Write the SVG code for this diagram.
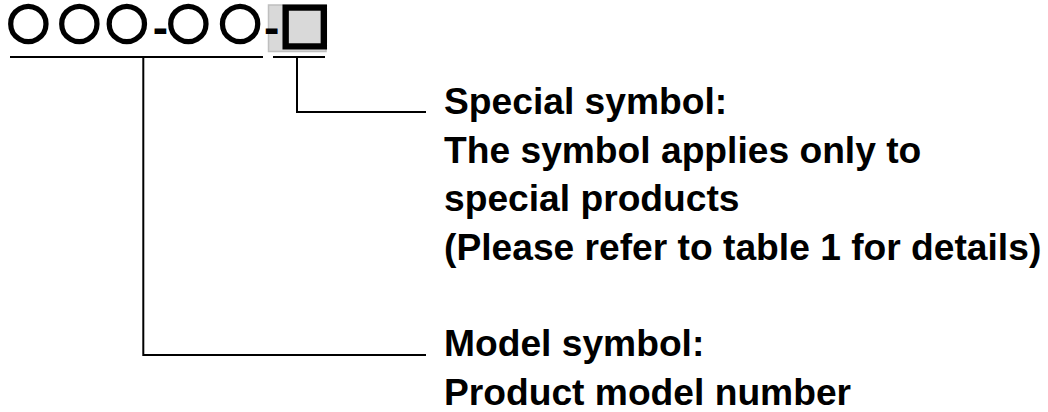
<svg xmlns="http://www.w3.org/2000/svg" width="1048" height="412" viewBox="0 0 1048 412">
  <style>
    .lbl { font-family: "Liberation Sans", Arial, sans-serif; font-weight: bold; font-size: 37.2px; fill: #000; }
    .sym { font-family: "DejaVu Sans", sans-serif; font-size: 50px; fill: #000; stroke: #000; stroke-width: 2.4; text-anchor: middle; dominant-baseline: central; }
    .dash { font-family: "Liberation Sans", Arial, sans-serif; font-weight: bold; font-size: 46px; fill: #000; text-anchor: middle; }
    .ln { stroke: #000; stroke-width: 2; fill: none; }
  </style>
  <rect width="1048" height="412" fill="#fff"/>
  <g id="code">
    <rect x="268.5" y="5" width="57.5" height="46.5" fill="#d9d9d9" stroke="#bfbfbf" stroke-width="1.5"/>
    <text class="sym" x="28.3" y="20">○</text>
    <text class="sym" x="79.2" y="20">○</text>
    <text class="sym" x="126.7" y="20">○</text>
    <text class="dash" x="160.3" y="43">-</text>
    <text class="sym" x="188.3" y="20">○</text>
    <text class="sym" x="240" y="20">○</text>
    <text class="dash" x="271.7" y="43">-</text>
    <text class="sym" x="304.7" y="22" style="font-size:54px;stroke-width:3.4">□</text>
    <line class="ln" x1="10" y1="57" x2="263" y2="57"/>
    <line class="ln" x1="273" y1="57" x2="325" y2="57"/>
  </g>
  <g id="connectors">
    <polyline class="ln" points="297,57 297,112 426,112"/>
    <polyline class="ln" points="143.3,57 143.3,355 426,355"/>
  </g>
  <g id="special">
    <text class="lbl" x="444" y="114">Special symbol:</text>
    <text class="lbl" x="444" y="162.7">The symbol applies only to</text>
    <text class="lbl" x="444" y="211.3">special products</text>
    <text class="lbl" x="444" y="260">(Please refer to table 1 for details)</text>
  </g>
  <g id="model">
    <text class="lbl" x="444" y="356">Model symbol:</text>
    <text class="lbl" x="444" y="404.7">Product model number</text>
  </g>
</svg>
